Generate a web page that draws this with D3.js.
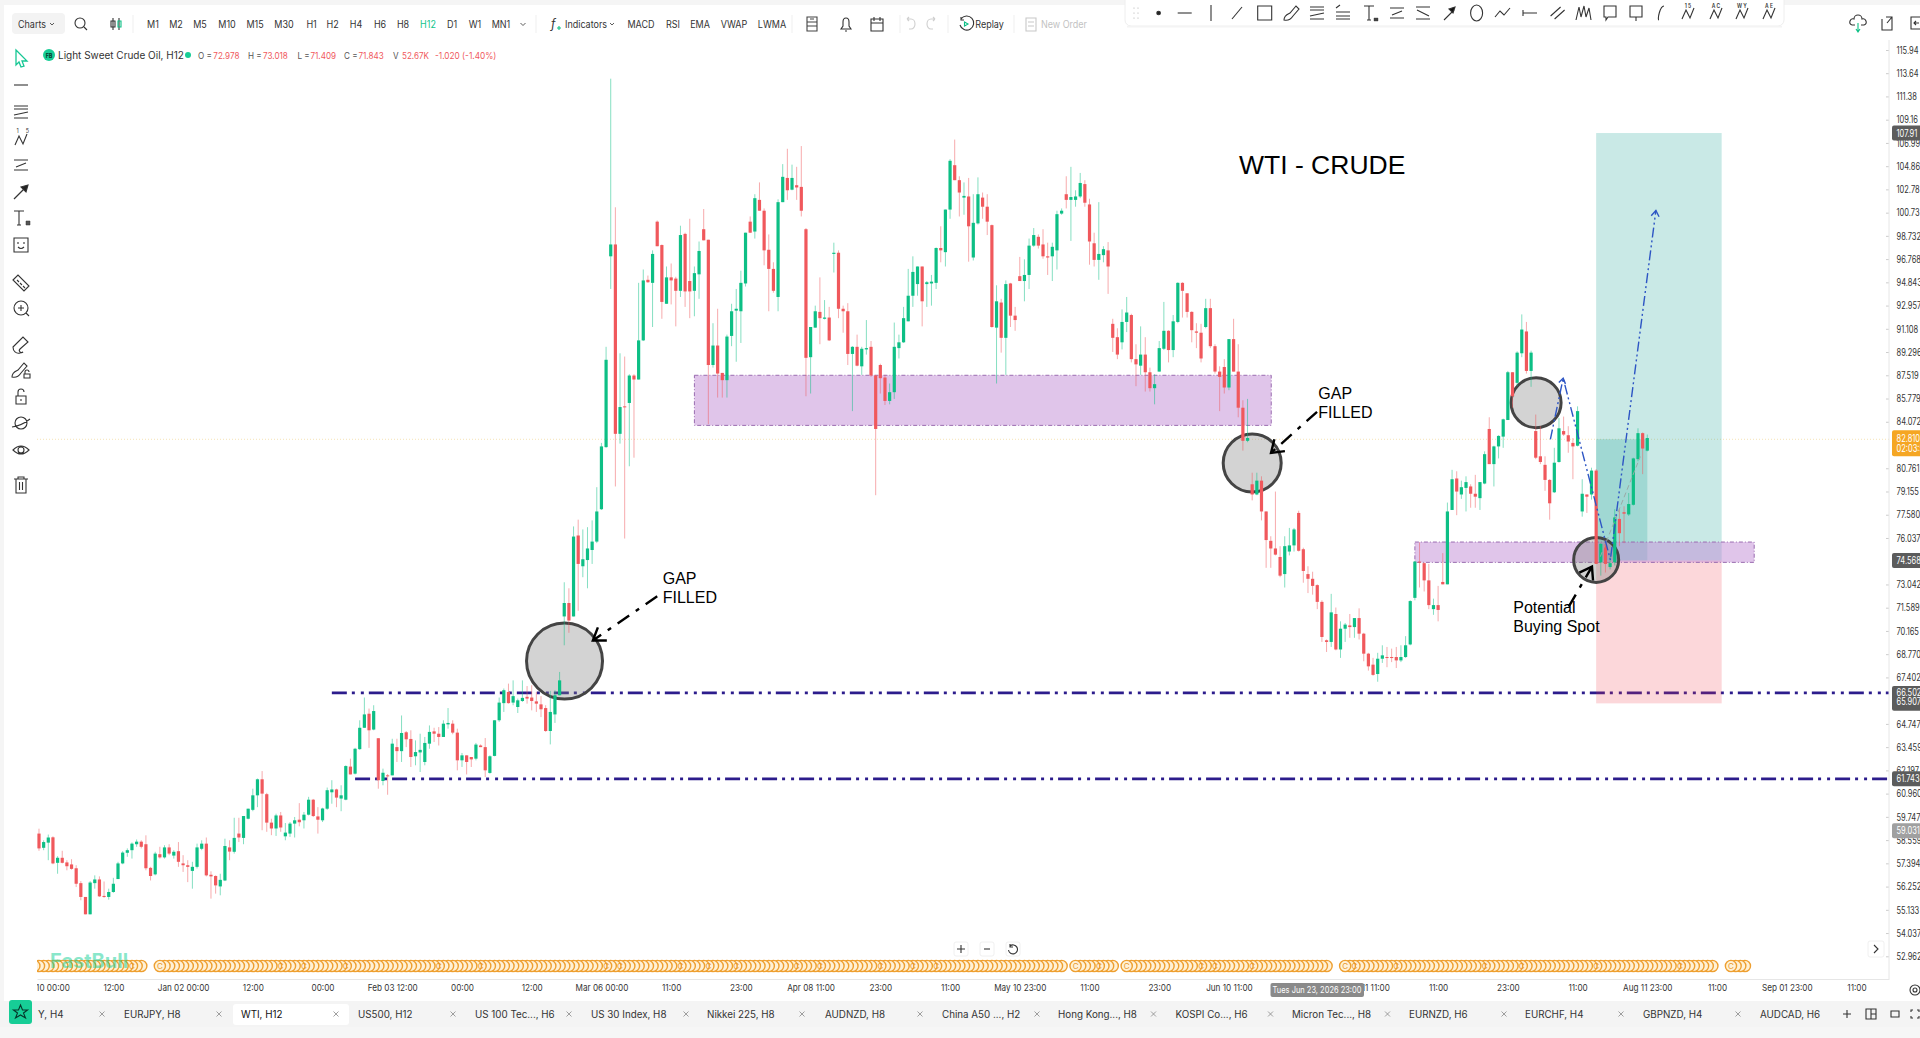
<!DOCTYPE html>
<html>
<head>
<meta charset="utf-8">
<script src="https://d3js.org/d3.v7.min.js"></script>
<style>
body { margin: 0; background: #fff; overflow: hidden; }
svg { display: block; font-family: Inter, "Noto Sans", sans-serif; }
</style>
</head>
<body>
<script>
// candles (WTI, H12)
var opens = [
58.89,58.17,58.43,58.70,57.42,57.67,57.44,57.34,57.15,56.42,55.75,54.92,56.42,56.60,55.80,55.75,55.99,56.62,57.39,57.92,
58.05,58.35,58.48,58.35,57.17,56.85,57.85,57.69,58.19,57.78,58.00,57.39,57.30,57.02,57.22,58.12,58.38,56.83,56.77,56.26,
56.55,58.19,57.97,58.89,58.67,59.65,60.11,60.87,61.72,60.93,59.45,59.15,59.82,58.75,58.89,59.40,59.60,59.57,59.86,60.64,
59.77,59.57,60.17,61.03,61.18,60.70,60.64,62.40,62.02,63.35,64.53,65.32,64.43,63.95,61.63,61.93,61.93,63.46,63.24,64.28,
63.91,62.96,63.17,62.65,63.65,64.33,64.20,64.02,64.72,64.76,64.26,62.74,63.01,62.92,62.83,63.55,63.46,62.06,62.98,64.95,
65.92,66.56,65.95,65.70,66.04,66.28,66.24,66.02,65.85,65.64,64.35,65.28,66.37,
71.05,71.88,71.05,76.2,74.2,74.6,75.25,75.8,77.95,82.25,97.0,98.0,83.2,85.2,85.45,87.5,87.2,90.2,95.05,94.8,
99.95,97.95,93.1,95.25,95.15,94.15,98.9,94.95,94.15,95.5,99.3,98.4,88.3,89.8,87.7,87.15,90.55,92.55,92.5,94.75,
99.95,99.1,101.85,100.9,97.55,95.95,93.65,101.65,103.8,102.75,103.15,103.0,99.3,88.9,91.2,92.45,91.9,92.0,97.2,97.3,
92.7,92.5,89.15,89.7,88.2,89.5,89.7,87.5,88.3,87.35,85.6,86.25,89.6,90.05,91.7,93.75,94.7,96.15,94.7,94.75,
94.8,97.7,97.35,101.0,104.95,103.6,102.05,102.15,96.9,99.8,102.05,101.25,99.65,91.2,93.2,90.4,94.75,92.15,95.35,94.95,
95.45,97.9,98.65,98.0,97.0,97.0,97.5,100.65,102.35,101.85,101.85,102.15,103.25,101.45,98.1,96.7,97.1,97.5,91.5,90.45,
90.05,91.65,92.2,88.75,88.25,89.1,87.75,86.55,87.8,89.55,90.95,89.45,91.65,94.8,93.95,92.45,90.9,90.8,91.25,92.75,
89.75,87.8,88.15,86.6,90.3,87.8,85.1,82.7,79.65,78.95,79.9,77.8,75.85,75.35,74.8,73.7,75.15,75.55,77.7,75.3,
73.7,73.4,73.0,71.95,69.6,69.5,71.2,69.05,70.3,70.5,70.4,70.95,70.0,68.8,68.15,67.6,68.5,68.6,68.6,68.6,
68.4,68.6,69.35,72.2,74.5,74.4,73.3,71.5,71.75,73.2,73.05,77.9,80.05,78.95,79.4,79.5,79.0,78.7,79.7,83.55,
81.05,82.3,83.0,84.2,87.75,86.95,89.2,90.9,87.85,83.4,81.6,81.0,79.95,79.1,81.2,83.4,83.1,82.55,82.35,77.8,
78.95,78.95,80.6,74.45,75.6,74.15,74.45,77.3,77.75,77.6,78.25,81.4,83.25,82.0];

var highs = [
59.14,58.55,58.84,58.75,57.75,58.02,57.55,57.60,57.30,56.52,55.75,56.52,56.80,56.75,56.50,56.15,56.68,57.47,58.00,58.14,
58.44,58.59,58.55,58.80,57.22,57.97,58.22,58.30,58.35,58.05,58.46,57.80,57.55,57.47,58.38,58.55,58.69,57.00,56.80,56.88,
58.63,58.55,59.70,59.70,59.79,60.17,61.22,61.76,62.16,61.00,59.65,59.91,60.00,59.43,59.48,59.74,60.46,60.00,60.79,60.68,
60.25,60.22,61.28,61.67,61.22,61.40,62.47,62.83,63.42,64.95,66.24,65.61,65.80,63.95,62.29,62.00,63.92,63.92,65.22,64.35,
64.39,63.83,64.20,64.02,64.66,64.53,64.57,64.95,65.64,64.95,64.48,63.14,63.01,62.92,63.69,63.61,63.96,63.01,64.95,66.24,
66.76,67.04,67.23,66.18,67.23,66.90,66.95,66.56,66.32,65.80,66.62,66.66,67.72,
73.18,72.8,76.8,77.25,76.6,76.75,77.2,79.45,82.55,89.7,113.1,101.2,89.2,88.95,87.6,87.6,94.8,95.9,95.4,97.5,
100.05,98.0,96.15,96.4,95.3,99.6,99.0,100.2,96.15,98.25,101.05,98.4,91.55,92.7,87.7,90.65,93.1,94.3,95.8,99.0,
100.4,102.35,103.4,101.1,98.85,96.5,101.9,105.05,106.45,105.0,104.8,106.7,99.4,91.25,92.95,95.25,93.4,92.85,98.15,97.5,
92.95,93.15,89.75,90.65,89.7,91.8,90.15,87.55,88.4,87.55,86.9,91.6,90.65,92.85,95.95,97.0,96.15,96.15,94.95,95.45,
97.75,99.55,101.0,105.5,107.3,103.95,103.4,103.8,102.35,103.85,102.5,102.35,99.7,94.6,93.5,95.0,94.8,92.85,96.95,96.75,
98.5,99.4,98.85,99.3,98.15,98.15,100.9,101.1,103.95,104.8,102.7,104.25,103.6,101.95,99.0,101.65,97.85,98.2,91.9,91.15,
92.65,93.65,92.3,89.9,91.3,90.45,88.1,87.6,90.15,93.25,91.0,92.2,94.85,94.85,93.95,92.5,91.55,91.5,93.5,93.5,
89.9,88.2,88.75,90.3,91.9,89.9,85.65,85.75,80.45,80.45,80.2,77.8,76.15,79.15,75.5,76.15,76.7,76.7,77.85,75.4,
74.2,73.85,73.05,72.05,69.65,72.45,71.6,70.75,70.65,71.2,70.95,71.55,70.05,68.85,68.55,68.85,69.3,69.2,69.1,69.2,
69.3,69.85,72.05,74.55,75.75,74.45,74.35,72.15,72.95,75.05,78.4,80.65,80.55,79.9,80.2,79.65,80.3,79.8,81.95,84.4,
82.35,83.1,84.3,87.85,87.75,89.35,92.25,91.65,89.4,84.6,83.75,81.6,80.0,82.2,84.35,84.45,83.75,82.9,85.2,80.0,
78.95,80.8,80.7,75.7,75.9,75.05,77.95,77.95,78.15,79.05,81.5,83.6,83.3,83.15];

var lows = [
58.02,58.05,57.55,57.35,56.88,57.39,57.05,57.08,56.23,55.59,54.92,54.92,56.15,55.75,55.71,55.62,55.95,56.62,57.35,57.72,
57.63,58.22,58.14,57.05,56.55,56.80,57.63,57.63,57.80,57.63,57.22,56.97,56.47,56.15,57.14,58.05,56.75,55.67,55.91,55.83,
56.52,57.55,57.88,58.46,58.35,59.62,60.04,60.25,59.06,58.98,58.81,58.77,58.98,58.55,58.72,58.69,59.26,59.15,59.82,59.74,
58.89,59.48,60.11,60.43,60.25,60.04,60.61,61.98,61.98,63.31,64.53,63.42,64.39,61.22,61.40,60.90,61.93,62.65,62.65,63.46,
62.38,62.47,62.11,62.47,63.37,63.74,63.55,64.02,64.48,64.17,62.20,62.38,61.98,62.38,62.74,63.46,61.84,62.02,62.96,64.86,
65.42,65.89,65.80,65.36,65.99,65.89,65.51,65.42,65.13,64.30,63.61,64.80,66.37,
69.3,70.05,71.05,71.4,73.5,72.8,74.35,75.7,77.9,82.2,94.3,79.5,82.5,76.0,80.9,81.5,87.2,90.15,94.8,91.25,
97.85,91.9,93.1,93.05,91.3,93.65,92.85,91.95,92.1,93.5,98.35,83.9,88.1,85.85,85.85,85.85,89.75,88.55,90.0,94.5,
99.0,98.5,100.9,96.25,92.5,94.0,92.5,101.65,101.85,102.7,101.85,100.4,85.95,86.15,91.2,89.9,91.85,90.15,95.65,91.95,
90.8,88.3,84.85,88.2,87.55,89.1,87.4,78.9,86.15,85.3,85.35,85.75,88.8,90.0,91.7,92.85,93.75,91.3,92.85,92.95,
94.3,96.5,96.15,100.2,103.6,100.4,100.55,96.55,96.65,99.7,100.2,98.8,91.2,86.9,89.25,87.55,91.25,90.95,94.95,93.3,
94.3,97.8,97.65,96.8,95.45,94.95,95.9,100.55,101.1,98.3,101.25,102.0,101.25,96.3,96.15,95.05,96.5,93.9,89.3,88.75,
89.5,90.85,88.5,86.7,87.55,86.3,86.3,85.35,87.8,89.45,88.5,88.9,91.55,92.0,92.0,90.05,89.6,88.5,91.15,89.6,
87.65,84.85,86.15,86.4,87.8,84.4,82.0,82.6,78.55,78.9,77.2,74.1,74.1,74.9,73.5,72.85,74.9,75.15,75.15,73.15,
72.5,72.4,71.5,69.5,68.9,69.2,69.0,68.55,69.5,69.75,69.75,69.65,68.35,67.8,67.5,67.15,68.25,68.0,68.3,67.95,
68.3,68.55,69.3,72.05,72.85,72.6,71.5,71.15,70.75,73.05,73.05,77.9,77.55,78.65,77.8,78.05,78.05,77.9,79.65,81.05,
79.5,81.45,82.2,84.2,85.1,86.7,88.9,87.65,86.65,81.4,81.05,79.2,77.25,79.05,81.15,83.05,81.85,80.0,82.3,77.45,
77.7,78.6,74.35,73.6,73.8,74.0,74.25,75.5,75.7,77.5,78.2,81.25,80.35,81.95];

var closes = [
58.14,58.46,58.69,57.39,57.67,57.42,57.25,57.12,56.39,55.75,54.92,56.45,56.60,55.78,55.75,55.99,56.39,57.39,57.93,58.05,
58.38,58.48,58.22,57.15,56.77,57.88,57.69,58.19,57.88,57.97,57.47,57.30,57.22,57.22,58.19,58.38,56.80,56.75,56.31,56.58,
58.26,57.98,58.67,58.69,59.79,60.17,60.87,61.72,60.96,59.45,59.15,59.82,59.20,58.94,59.40,59.57,59.47,59.86,60.64,59.79,
59.60,60.18,61.14,61.18,60.75,60.87,62.43,61.98,63.37,64.53,65.28,64.39,65.47,61.67,62.07,61.88,63.65,63.24,64.24,63.89,
62.92,63.19,63.31,63.69,64.30,64.20,64.02,64.76,64.80,64.26,62.74,63.01,62.65,62.79,63.60,63.46,62.20,62.96,64.95,65.95,
66.66,65.92,66.32,66.08,66.22,66.18,66.04,65.89,65.57,64.35,65.42,66.37,67.23,
71.88,70.8,76.13,74.35,74.65,75.35,75.8,77.8,82.3,88.7,98.0,83.2,85.15,85.15,87.5,87.2,90.2,95.0,94.85,97.2,
97.85,93.25,95.25,95.0,94.15,98.8,94.1,94.1,95.6,97.45,98.35,88.3,89.8,87.65,87.15,90.5,92.5,92.7,94.8,99.0,
99.0,102.0,100.9,97.5,95.95,94.15,101.65,103.9,102.7,103.8,102.95,100.9,88.85,91.25,92.5,91.95,92.0,90.2,97.3,92.7,
92.5,89.15,89.7,88.25,89.55,89.6,87.5,83.55,87.3,85.6,86.25,89.7,90.05,91.95,93.75,95.7,96.15,93.3,94.85,94.9,
97.7,97.5,101.0,105.35,103.6,102.5,102.2,99.55,99.85,102.35,101.25,99.95,91.25,93.3,90.4,94.7,92.15,91.8,94.95,95.45,
97.9,98.8,97.9,97.0,96.9,97.8,100.6,100.9,101.85,102.1,102.15,103.35,101.6,98.25,96.7,97.2,97.6,96.15,90.4,89.1,
91.65,92.4,88.75,88.35,89.1,87.75,86.55,86.85,89.6,90.95,89.45,91.7,94.8,94.15,92.45,91.0,90.8,88.8,92.75,89.75,
87.8,87.4,86.6,90.3,87.8,85.1,82.7,82.9,78.95,79.9,77.8,75.9,75.35,74.95,73.6,75.5,75.55,76.6,75.2,73.9,
73.4,72.95,71.95,69.8,69.5,71.3,69.05,70.3,70.55,70.4,70.95,70.0,68.8,68.05,67.55,68.5,68.7,68.55,68.55,68.4,
68.6,69.3,72.0,74.5,74.45,73.3,71.75,71.75,71.45,73.05,77.8,80.0,79.15,79.45,79.8,79.0,78.8,79.8,81.75,81.05,
82.3,83.05,84.25,87.75,85.95,89.25,91.05,87.85,89.25,81.5,81.2,79.95,78.35,81.15,83.6,83.15,82.65,82.3,84.85,79.0,
78.8,80.6,74.35,75.65,74.35,74.4,77.4,76.35,77.65,78.3,81.45,83.25,82.15,82.9];

var priceTicks = [115.94,113.64,111.38,109.16,106.99,104.86,102.78,100.73,98.732,96.768,94.843,92.957,91.108,89.296,87.519,85.779,84.072,80.761,79.155,77.58,76.037,73.042,71.589,70.165,68.77,67.402,64.747,63.459,62.197,60.96,59.747,58.559,57.394,56.252,55.133,54.037,52.962];
var priceLabels = ['115.94','113.64','111.38','109.16','106.99','104.86','102.78','100.73','98.732','96.768','94.843','92.957','91.108','89.296','87.519','85.779','84.072','80.761','79.155','77.580','76.037','73.042','71.589','70.165','68.770','67.402','64.747','63.459','62.197','60.960','59.747','58.559','57.394','56.252','55.133','54.037','52.962'];
var timeTickBars = d3.range(1, 392, 15);
var timeLabels = ['Dec 10 00:00','12:00','Jan 02 00:00','12:00','00:00','Feb 03 12:00','00:00','12:00','Mar 06 00:00','11:00','23:00','Apr 08 11:00','23:00','11:00','May 10 23:00','11:00','23:00','Jun 10 11:00','','Jul 11 11:00','11:00','23:00','11:00','Aug 11 23:00','11:00','Sep 01 23:00','11:00'];

// annotations, in bars and prices
var supportLines = [[66.502, 63], [61.743, 68]];
var lastPrice = 82.81;
var entryPrice = 74.568, targetPrice = 107.91, stopPrice = 65.907;
var rrBars = [335, 362], rrNowBar = 346;
var zones = [[141, 265.1, 87.52, 83.81], [296, 369, 75.77, 74.45]];
var circleBars = [113.06, 261, 322.08, 335], circlePrices = [68.36, 81.13, 85.47, 74.61], circleRadii = [38, 29, 25, 22.5];
var arrows = [[[133, 72.3], [119.15, 69.59]], [[274.95, 84.8], [265.05, 81.84]], [[329.1, 71.65], [334.1, 74.18]]];
var bluePath = [[325.15, 82.81], [327.9, 87.29], [338.05, 74.61], [347.85, 100.92]];
var greyPath = [[335.9, 74.82], [344.5, 81.58]];
var eventRuns = [[-1,19],[20,22],[26,51],[52,56],[57,65],[66,85],[86,94],[95,121],[122,124],[125,137],[138,143],[144,149],[150,162],[163,167],[168,180],[181,187],[188,192],[193,220],[223,227],[228,231],[234,249],[250,252],[253,260],[261,277],[281,282],[283,291],[292,310],[311,318],[319,334],[335,352],[353,360],[364,367]];

var timeframes = ['M1','M2','M5','M10','M15','M30','H1','H2','H4','H6','H8','H12','D1','W1','MN1'];
var timeframeX = [153,176,200,227,255,284,311.6,332.6,356,380,403,428,452,475,501];
var tabNames = ['Y, H4','EURJPY, H8','WTI, H12','US500, H12','US 100 Tec..., H6','US 30 Index, H8','Nikkei 225, H8','AUDNZD, H8','China A50 ..., H2','Hong Kong..., H8','KOSPI Co..., H6','Micron Tec..., H8','EURNZD, H6','EURCHF, H4','GBPNZD, H4','AUDCAD, H6'];
var tabTextX = [38,124,241,358,475,591,707,825,942,1058,1175.5,1292,1409,1525,1643,1760];
var tabCloseX = [102,219,336,453,569,686,802,920,1037,1153.5,1270.5,1387.5,1504,1621,1738];

var green = '#0dbf85', red = '#f0585c', ink = '#333';

var svg = d3.select('body').append('svg').attr('width', 1920).attr('height', 1038);

var x = d3.scaleLinear().domain([-0.43, 398]).range([37, 1889]);
var y = d3.scaleLog().domain([115.94, 52.962]).range([50, 956.3]);

svg.append('rect').attr('width', 1920).attr('height', 1038).attr('fill', '#fff');
svg.append('rect').attr('width', 1920).attr('height', 5).attr('fill', '#f5f5f5');
svg.append('rect').attr('width', 4).attr('height', 1038).attr('fill', '#f5f5f5');

var defs = svg.append('defs');
defs.append('clipPath').attr('id', 'plot').append('rect').attr('x', 37).attr('y', 30).attr('width', 1852).attr('height', 1000);
defs.append('clipPath').attr('id', 'plot2').append('rect').attr('x', 37).attr('y', -5).attr('width', 1860).attr('height', 30);

var plot = svg.append('g').attr('clip-path', 'url(#plot)');

// text squeezed sideways, the screenshot is narrower than it is tall
function squeezed(tx, ty, str, size, fill, anchor, sx) {
    return svg.append('text')
        .attr('transform', 'translate(' + tx + ',' + ty + ') scale(' + sx + ',1)')
        .attr('font-size', size).attr('fill', fill || ink)
        .attr('text-anchor', anchor || 'middle').text(str);
}

// last price line
plot.append('line')
    .attr('x1', 37).attr('x2', 1889)
    .attr('y1', y(lastPrice)).attr('y2', y(lastPrice))
    .attr('stroke', '#f5e3b5').attr('stroke-dasharray', '1 2');

// support lines
plot.selectAll('.support').data(supportLines).enter().append('line')
    .attr('x1', function(d) { return x(d[1]); })
    .attr('x2', 1889)
    .attr('y1', function(d) { return y(d[0]); })
    .attr('y2', function(d) { return y(d[0]); })
    .attr('stroke', '#2c1c8c').attr('stroke-width', 2.8)
    .attr('stroke-dasharray', '15 5 3 6 3 5');

// risk reward boxes
function box(b0, b1, p0, p1, fill) {
    return plot.append('rect')
        .attr('x', x(b0)).attr('width', x(b1) - x(b0))
        .attr('y', y(p0)).attr('height', y(p1) - y(p0))
        .attr('fill', fill);
}
box(rrBars[0], rrBars[1], targetPrice, entryPrice, 'rgba(38,166,154,.25)');
box(rrBars[0], rrNowBar, lastPrice, entryPrice, 'rgba(38,166,154,.25)');
box(rrBars[0], rrBars[1], entryPrice, stopPrice, 'rgba(242,54,69,.2)');

// zones
zones.forEach(function(z) {
    box(z[0], z[1], z[2], z[3], 'rgba(193,140,214,.5)')
        .attr('stroke', '#9a6cb0').attr('stroke-dasharray', '4 2 1 2');
});

// circles
plot.selectAll('.spot').data(circleBars).enter().append('circle')
    .attr('cx', function(d) { return x(d); })
    .attr('cy', function(d, i) { return y(circlePrices[i]); })
    .attr('r', function(d, i) { return circleRadii[i]; })
    .attr('fill', 'rgba(128,128,128,.35)')
    .attr('stroke', '#444').attr('stroke-width', 3);

// candles
var bars = d3.range(opens.length);
function barColor(i) { return closes[i] >= opens[i] ? green : red; }

plot.selectAll('.wick').data(bars).enter().append('line')
    .attr('x1', function(i) { return x(i); })
    .attr('x2', function(i) { return x(i); })
    .attr('y1', function(i) { return y(highs[i]); })
    .attr('y2', function(i) { return y(lows[i]); })
    .attr('stroke', barColor)
    .attr('stroke-opacity', .5);

plot.selectAll('.body').data(bars).enter().append('rect')
    .attr('x', function(i) { return x(i) - 1.6; })
    .attr('width', 3.2)
    .attr('y', function(i) { return y(Math.max(opens[i], closes[i])); })
    .attr('height', function(i) { return Math.max(1, Math.abs(y(opens[i]) - y(closes[i]))); })
    .attr('fill', barColor);

// trade path
var pathLine = d3.line().x(function(d) { return x(d[0]); }).y(function(d) { return y(d[1]); });
plot.append('path').attr('d', pathLine(greyPath)).attr('fill', 'none')
    .attr('stroke', '#9aa9a6').attr('stroke-dasharray', '5 3');
plot.append('path').attr('d', pathLine(bluePath)).attr('fill', 'none')
    .attr('stroke', '#2d55c4').attr('stroke-width', 1.4)
    .attr('stroke-dasharray', '10 3 2 3 2 3');

function head(a, b, len, color, width) {
    var x0 = x(a[0]), y0 = y(a[1]), x1 = x(b[0]), y1 = y(b[1]);
    var t = Math.atan2(y1 - y0, x1 - x0);
    var p = [-0.6, 0.6].map(function(s) {
        return [x1 - len * Math.cos(t + s), y1 - len * Math.sin(t + s)];
    });
    plot.append('path')
        .attr('d', 'M' + p[0] + 'L' + x1 + ',' + y1 + 'L' + p[1])
        .attr('fill', 'none').attr('stroke', color).attr('stroke-width', width);
}
head(bluePath[2], bluePath[3], 7, '#2d55c4', 1.4);
head(bluePath[0], bluePath[1], 6, '#2d55c4', 1.4);

// arrows
arrows.forEach(function(a) {
    plot.append('path').attr('d', pathLine(a)).attr('fill', 'none')
        .attr('stroke', '#000').attr('stroke-width', 2.4)
        .attr('stroke-dasharray', '14 8 4 8');
    head(a[0], a[1], 14, '#000', 2.4);
});

// notes
function note(tx, ty, size, str) {
    svg.append('text').attr('x', tx).attr('y', ty)
        .attr('font-family', '"Liberation Sans", Arial, sans-serif')
        .attr('font-size', size).attr('fill', '#000').text(str);
}
note(1239, 173.5, 26.5, 'WTI - CRUDE');
note(662.7, 584, 16, 'GAP');
note(662.7, 602.7, 16, 'FILLED');
note(1318.3, 399, 16, 'GAP');
note(1318.3, 418, 16, 'FILLED');
note(1513.3, 612.7, 16, 'Potential');
note(1513.3, 632, 16, 'Buying Spot');

// event row
var events = [];
eventRuns.forEach(function(r) { events = events.concat(d3.range(r[0], r[1] + 1)); });
var eventG = plot.append('g');
events.slice().reverse().forEach(function(b) {
    eventG.append('circle').attr('cx', x(b)).attr('cy', 966).attr('r', 5.6)
        .attr('fill', '#fff1d6').attr('stroke', '#ee9f30').attr('stroke-width', 1.4);
});
eventRuns.forEach(function(r) {
    eventG.append('text').attr('x', x(r[0])).attr('y', 969)
        .attr('text-anchor', 'middle').attr('font-size', 8).attr('fill', '#e8972a').text('C');
});
svg.append('text').attr('x', 50).attr('y', 968).attr('font-size', 20).attr('font-weight', 700)
    .attr('fill', '#14cf97').attr('fill-opacity', .5).text('FastBull');

// price axis
var priceAxis = d3.axisRight(y)
    .tickValues(priceTicks)
    .tickSize(-3).tickPadding(7)
    .tickFormat(function(d, i) { return priceLabels[i]; });
var priceG = svg.append('g').attr('transform', 'translate(1889,0)').call(priceAxis);
priceG.select('.domain').remove();
priceG.selectAll('text').attr('font-size', 10).attr('font-family', 'Inter, sans-serif').attr('fill', ink)
    .attr('x', 0).attr('transform', 'translate(7.5,0) scale(.75,1)');
priceG.selectAll('line').attr('stroke', '#ccc');
svg.append('line').attr('x1', 1889).attr('x2', 1889).attr('y1', 40).attr('y2', 979).attr('stroke', '#e6e6e6');

// time axis
var timeAxis = d3.axisBottom(x)
    .tickValues(timeTickBars)
    .tickSize(0).tickPadding(5)
    .tickFormat(function(d, i) { return timeLabels[i]; });
var timeG = svg.append('g').attr('transform', 'translate(0,979)').attr('clip-path', 'url(#plot2)').call(timeAxis);
timeG.select('.domain').attr('stroke', '#e6e6e6');
timeG.selectAll('text').attr('font-size', 9.5).attr('font-family', 'Inter, sans-serif').attr('fill', ink)
    .attr('transform', 'scale(.86,1)');

// crosshair label
svg.append('rect').attr('x', 1270.5).attr('y', 983).attr('width', 93.5).attr('height', 14).attr('rx', 2).attr('fill', '#8a8a8a');
squeezed(1317, 993.2, 'Tues Jun 23, 2026 23:00', 8.8, '#fff', 'middle', .85);

// price tags
function tag(p0, p1, before, after, fill, lines) {
    var top = y(p0) - before, h = y(p1) + after - top;
    svg.append('rect').attr('x', 1892).attr('y', top).attr('width', 30).attr('height', h).attr('rx', 2).attr('fill', fill);
    lines.forEach(function(l) {
        squeezed(1896.5, l[1], l[0], 10, '#fff', 'start', .75);
    });
}
tag(107.91, 107.91, 7.5, 7.5, '#5c5c5c', [['107.91', y(107.91) + 3.5]]);
tag(82.81, 82.81, 9, 17, '#f5a623', [['82.810', y(82.81) + 2.5], ['02:03:5', y(82.81) + 12.5]]);
tag(74.568, 74.568, 7.5, 7.5, '#5c5c5c', [['74.568', y(74.568) + 3.5]]);
tag(66.502, 65.907, 7, 7.5, '#5c5c5c', [['66.502', y(66.502) + 3], ['65.907', y(65.907) + 1.5]]);
tag(61.743, 61.743, 7.5, 7.5, '#5c5c5c', [['61.743', y(61.743) + 3.5]]);
tag(59.031, 59.031, 7.5, 7.5, '#a0a0a0', [['59.031', y(59.031) + 3.5]]);

// ---- screen furniture ----
function icon(ix, iy, d, opts) {
    opts = opts || {};
    svg.append('path').attr('transform', 'translate(' + ix + ',' + iy + ')').attr('d', d)
        .attr('fill', opts.fill || 'none')
        .attr('stroke', opts.stroke || '#333')
        .attr('stroke-width', opts.width || 1.1);
}
function label(tx, ty, str, size, fill, anchor) {
    return squeezed(tx, ty, str, size, fill, anchor, .9);
}

var circ = function(r) { return 'M' + (-r) + ',0A' + r + ',' + r + ' 0 1 0 ' + r + ',0A' + r + ',' + r + ' 0 1 0 ' + (-r) + ',0'; };
var zig = 'M-6,6L-2,-3L2,5L6,-5';
var fib = 'M-7,-6H7M-7,-3H7M-7,3L7,0M-7,6H7';
var chan = 'M-7,-5H7M-7,5H7M-5,2L5,-2';
var cursor = 'M-5,-8L6,3H1L3,8L0,9L-2,4L-5,7Z';
var brush = 'M-7,7C-7,2 -3,1 -1,0L5,-7L8,-4L2,3C0,6 -3,8 -7,7Z';
var trash = 'M-7,-6H7M-3,-6V-8H3V-6M-5,-6V8H5V-6M-1.5,-3V5M1.5,-3V5';
var lock = 'M-5,-1H5V7H-5ZM-3,-1V-5A3,3 0 0 1 3,-5M0,2V4';

// top bar
svg.append('rect').attr('x', 12).attr('y', 13).attr('width', 53).attr('height', 21).attr('rx', 4).attr('fill', '#f3f3f3');
label(32, 27.5, 'Charts', 10);
icon(52, 24, 'M-2,-1L0,1L2,-1', { width: 0.8 });
icon(80, 23, circ(5) + 'M4,4L7,7');
icon(116, 24, 'M-3,-6V6M-5,-3H-1V3H-5ZM3,-6V6', {});
icon(119, 24, 'M-1,-3H2V3H-1Z', { stroke: green });
timeframes.forEach(function(t, i) {
    label(timeframeX[i], 27.5, t, 10, t == 'H12' ? '#12c48c' : ink);
});
icon(523, 24, 'M-2.5,-1L0,1.5L2.5,-1', { width: 0.8 });
svg.append('text').attr('x', 551).attr('y', 28).attr('font-size', 12).attr('font-style', 'italic').attr('fill', ink).text('f');
icon(559, 28, 'M-2,0H2M0,-2V2', { stroke: green });
label(586, 27.5, 'Indicators', 10);
icon(612, 24, 'M-2,-1L0,1L2,-1', { width: 0.8 });
label(641, 27.5, 'MACD', 10);
label(673, 27.5, 'RSI', 10);
label(700, 27.5, 'EMA', 10);
label(734, 27.5, 'VWAP', 10);
label(772, 27.5, 'LWMA', 10);
icon(812, 24, 'M-5,-7H5V7H-5ZM-5,-2H5M-5,2H5M-2,-5H2', { stroke: '#444' });
icon(846, 24, 'M-5,5H5L3,2V-2A3,4 0 0 0 -3,-2V2ZM-1,7H1', {});
icon(877, 24, 'M-6,-5H6V7H-6ZM-6,-1H6M-3,-7V-3M3,-7V-3', {});
icon(910, 24, 'M-3,-5H1A4,5 0 0 1 1,5H-1M-3,-5L-1,-7M-3,-5L-1,-3', { stroke: '#cfcfcf' });
icon(932, 24, 'M3,-5H-1A4,5 0 0 0 -1,5H1M3,-5L1,-7M3,-5L1,-3', { stroke: '#cfcfcf' });
icon(966, 24, 'M-5,-5A7,7 0 1 1 -6,1M-5,-7V-4H-2', {});
icon(966, 24, 'M-1.5,-2L2,0L-1.5,2Z', { stroke: green });
label(989.5, 27.5, 'Replay', 10);
icon(1031, 24, 'M-5,-6H5V7H-5ZM-3,-2H3M-3,2H3', { stroke: '#c8c8c8' });
label(1064, 27.5, 'New Order', 10, '#c2c2c2');
[133, 536, 792, 900, 948, 1014].forEach(function(sx) {
    svg.append('line').attr('x1', sx).attr('x2', sx).attr('y1', 15).attr('y2', 33).attr('stroke', '#efefef');
});

// legend row
svg.append('circle').attr('cx', 49).attr('cy', 55).attr('r', 6).attr('fill', '#17cd96');
label(49, 57.5, 'FB', 6, '#06372a').attr('font-weight', 700);
squeezed(58, 59, 'Light Sweet Crude Oil, H12', 10, ink, 'start', 1);
svg.append('circle').attr('cx', 188).attr('cy', 55).attr('r', 3).attr('fill', '#17cd96');
[[198, 'O =', 213.3, '72.978'], [248, 'H =', 263, '73.018'], [297.5, 'L =', 310.5, '71.409'], [344, 'C =', 358.5, '71.843'], [393, 'V', 402, '52.67K']].forEach(function(o) {
    squeezed(o[0], 59, o[1], 9, '#555', 'start', .9);
    squeezed(o[2], 59, o[3], 9, red, 'start', .9);
});
squeezed(435, 59, '-1.020 (-1.40%)', 9, red, 'start', .92);

// left tools
icon(21, 58, cursor, { stroke: '#17c794', width: 1.3 });
icon(21, 85, 'M-7,0H7');
icon(21, 112, fib);
icon(21, 139, zig);
label(17.5, 133, '1', 6, ink); label(27.5, 133, '5', 6, ink);
icon(21, 165, chan);
icon(21, 192, 'M-7,7L5,-5', { width: 1.3 });
icon(21, 192, 'M7,-7L0,-5L5,0Z', { fill: '#222' });
icon(21, 218, 'M-7,-7H3M-2,-7V7M-4,7H0');
icon(28, 223, 'M-2,-2H2V2H-2Z', { fill: '#555', width: 0.5 });
icon(21, 245, 'M-7,-7H7V7H-7ZM-3,-3V-1M3,-3V-1M-3,2Q0,5 3,2');
icon(21, 283, 'M-8,-3L-3,-8L8,3L3,8ZM-4,-3L-2,-1M-1,0L1,2M2,3L4,5');
icon(21, 308, circ(7) + 'M5,5L8,8M-3,0H3M0,-3V3');
icon(21, 345, 'M-8,2L2,-8L7,-3L-1,4A2,2 0 0 0 2,7L-1,8C-5,9 -8,6 -8,2Z');
icon(19, 370, brush);
icon(27, 374, 'M-3,0H3V4H-3ZM-2,0V-2A2,2 0 0 1 2,-2', {});
icon(21, 397, lock);
icon(21, 423, circ(6) + 'M-9,4Q0,3 9,-4');
icon(21, 450, 'M-8,0Q0,-8 8,0Q0,8 -8,0Z' + circ(3));
icon(21, 485, trash);

// drawing toolbar
svg.append('rect').attr('x', 1125).attr('y', -6).attr('width', 659).attr('height', 32).attr('rx', 6)
    .attr('fill', '#fff').attr('stroke', '#eee');
svg.append('rect').attr('x', 1127).attr('y', 26).attr('width', 655).attr('height', 1.5).attr('fill', '#f4f4f4');
var toolX = [1158.6,1184.7,1211,1237,1264.7,1291,1317,1343,1371,1397,1423,1450,1476.6,1503,1530,1557.6,1584,1610,1636,1662,1688,1716,1742,1769];
var toolD = [circ(1.8),'M-7,0H7','M0,-8V8','M-5,6L5,-6','M-7,-7H7V7H-7Z',brush,fib,'M-7,-1H7M-7,3H7M-7,6H7M-7,-5L-3,-8',
    'M-7,-7H3M-2,-7V7M-4,7H0',chan,'M-7,-6H7M-7,6H7M-6,-3L6,3','M-6,7L4,-3','M-6,0A6,8 0 1 0 6,0A6,8 0 1 0 -6,0','M-8,4L-3,-2L1,2L7,-5','M-7,-3V3M-7,0H7','M-7,3L3,-6M-3,6L7,-3',
    'M-8,7L-5,-6L-3,4L0,-7L2,4L5,-5L7,7','M-6,-7H6V4H-2L-4,7V4H-6Z','M-6,-7H6V4H-6ZM0,4V8','M-3,7C-5,7 -2,-7 2,-7',zig,zig,zig,zig];
toolD.forEach(function(d, i) {
    icon(toolX[i], 13, d, i == 0 ? { fill: '#222' } : {});
});
icon(1450, 13, 'M5,-6L-1,-4L3,0Z', { fill: '#111' });
d3.range(3).forEach(function(r) {
    [1134, 1138].forEach(function(dx) {
        svg.append('circle').attr('cx', dx).attr('cy', 8 + r * 5).attr('r', .6).attr('fill', '#aaa');
    });
});
[['1 5', 1688], ['A C', 1716], ['W Y', 1742], ['A E', 1769]].forEach(function(z) {
    label(z[1], 8, z[0], 5.5, ink).attr('font-weight', 600);
});
icon(1371, 13, 'M3,5H7V8H3Z', { fill: '#444', width: 0.4 });

// top right
icon(1858, 23, 'M-6,2A3,3 0 0 1 -4,-4A4,4 0 0 1 4,-4A3,3 0 0 1 6,2H3M-3,2H-6', {});
icon(1858, 27, 'M0,-4V5M-2,2L0,5L2,2', { stroke: green });
icon(1887, 23, 'M-5,-4V7H5V0M-1,-6H5V0M5,-6L0,0', {});
icon(1916, 23, 'M-5,-6H5V6H-5ZM3,0H-2M0,-2L-2,0L0,2', {});

// chart controls
[[961, 'M-4,0H4M0,-4V4'], [987, 'M-3,0H3'], [1013, 'M-3,-3A4.5,4.5 0 1 1 -4.5,1M-3,-5V-2H0']].forEach(function(c) {
    svg.append('rect').attr('x', c[0] - 7).attr('y', 942).attr('width', 14).attr('height', 14).attr('rx', 2).attr('fill', '#fff').attr('stroke', '#f0f0f0');
    icon(c[0], 949, c[1]);
});
svg.append('rect').attr('x', 1868).attr('y', 941).attr('width', 16).attr('height', 16).attr('rx', 2).attr('fill', '#fff').attr('stroke', '#f0f0f0');
icon(1876, 949, 'M-2,-4L2,0L-2,4');
icon(1915, 990, circ(5) + circ(2));

// tabs
svg.append('rect').attr('y', 1001).attr('width', 1920).attr('height', 26).attr('fill', '#f4f4f4');
svg.append('rect').attr('y', 1027).attr('width', 1920).attr('height', 11).attr('fill', '#f6f6f6');
svg.append('rect').attr('x', 233).attr('y', 1004).attr('width', 116).attr('height', 21).attr('rx', 3).attr('fill', '#fff');
svg.append('rect').attr('x', 9).attr('y', 1000).attr('width', 23).attr('height', 24).attr('rx', 3).attr('fill', '#17cd96');
icon(20.5, 1012, 'M0,-7L2,-2L7,-2L3,1L5,6L0,3L-5,6L-3,1L-7,-2L-2,-2Z', { stroke: '#06372a' });
tabNames.forEach(function(t, i) {
    squeezed(tabTextX[i], 1017.5, t, 10, i == 2 ? '#111' : ink, 'start', .98);
    if (i < tabCloseX.length) icon(tabCloseX[i], 1014, 'M-2.5,-2.5L2.5,2.5M-2.5,2.5L2.5,-2.5', { stroke: '#888', width: 0.8 });
});
icon(1847, 1014, 'M-4,0H4M0,-4V4');
icon(1871, 1014, 'M-5,-5H5V5H-5ZM0,-5V5M0,0H5');
icon(1895, 1014, 'M-4,-3H4V3H-4Z');
icon(1915, 1014, 'M-4,-2V-4H-2M2,-4H4V-2M4,2V4H2M-2,4H-4V2');
</script>
</body>
</html>
